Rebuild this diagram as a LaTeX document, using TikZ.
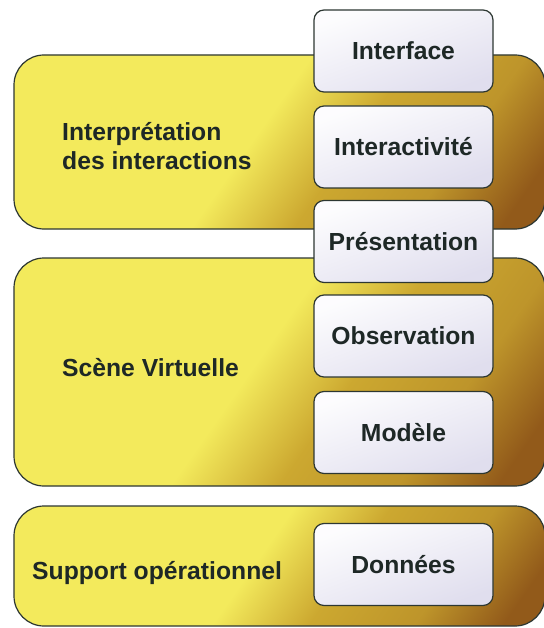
\documentclass[tikz,border=0pt]{standalone}
\usepackage{fontspec}
\setmainfont{Liberation Sans}
\usetikzlibrary{positioning}
\definecolor{layeryellow}{RGB}{243,234,92}
\definecolor{layergold}{RGB}{204,168,48}
\definecolor{layerbrown}{RGB}{146,90,26}
\definecolor{edge}{RGB}{45,55,50}
\definecolor{tint}{RGB}{224,222,238}
\definecolor{ink}{RGB}{30,40,38}
\pgfdeclarehorizontalshading{layerfade}{100bp}{color(0bp)=(layeryellow); color(47bp)=(layeryellow); color(58bp)=(layergold); color(70bp)=(layergold!75!layerbrown); color(80bp)=(layerbrown); color(100bp)=(layerbrown)}

\begin{document}
\begin{tikzpicture}[x=1pt,y=-1pt,
  font=\fontsize{24.7}{29}\selectfont\bfseries, text=ink,
  layer/.style={draw=edge,line width=1.2pt,rounded corners=30pt,shading=layerfade,shading angle=-35,inner sep=0pt,minimum width=531pt},
  part/.style={draw=edge,line width=1.2pt,rounded corners=10pt,top color=white!92!tint,bottom color=tint,shading angle=20,minimum width=179pt,minimum height=82pt,inner sep=0pt},
  title/.style={anchor=west,align=left,inner sep=0pt}]
\useasboundingbox (0,0) rectangle (543,628);
\fill[white] (0,0) rectangle (543,628);
% layers
\node[layer,minimum height=174pt] (interp) at (279.5,142) {};
\node[layer,minimum height=228pt] (scene) at (279.5,372) {};
\node[layer,minimum height=120pt] (support) at (279.5,566) {};
\node[title] (interptxt) at (62,146) {Interprétation\\des interactions};
\node[title] (scenetxt) at (62,368) {Scène Virtuelle};
\node[title] (supporttxt) at (32,573) {Support opérationnel};
% components
\node[part] (interface) at (403.5,51) {Interface};
\node[part] (interact) at (403.5,147) {Interactivité};
\node[part] (present) at (403.5,241.5) {Présentation};
\node[part] (observ) at (403.5,336) {Observation};
\node[part] (model) at (403.5,432.5) {Modèle};
\node[part] (data) at (403.5,564.5) {Données};
\end{tikzpicture}
\end{document}
